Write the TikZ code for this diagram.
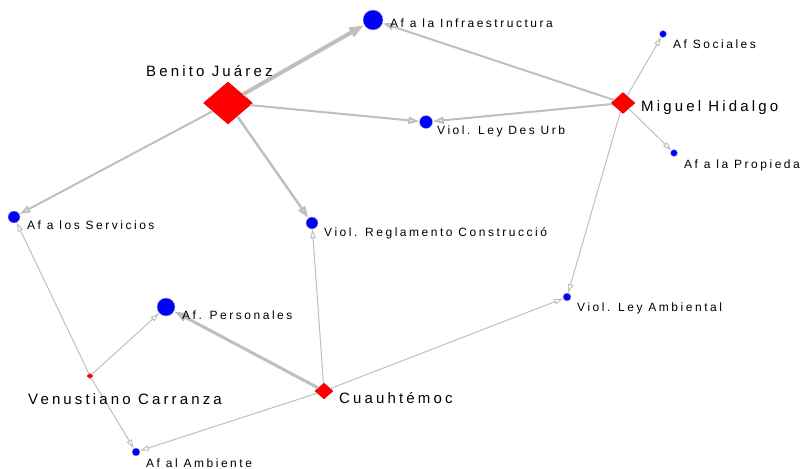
\documentclass[tikz,border=0pt]{standalone}
\usepackage{fontspec}
\newfontfamily\labfont[LetterSpace=21]{Liberation Sans}
\usetikzlibrary{shapes.geometric,arrows.meta}
\tikzset{
  dot/.style={circle,fill=blue,draw=gray!60,line width=.4pt,inner sep=0pt,minimum size=#1},
  muni/.style 2 args={diamond,fill=red,draw=red!85!black,line width=.4pt,inner sep=0pt,minimum width=#1,minimum height=#2},
  edge/.style={draw=black!25,line width=#1,-{Triangle[open,length=7pt+2*#1,width=4pt+1.5*#1]}},
  lab/.style={anchor=base west,inner sep=0pt,font=\labfont\fontsize{12}{12}\selectfont},
  biglab/.style={anchor=base west,inner sep=0pt,font=\labfont\fontsize{15}{15}\selectfont}
}
\begin{document}
\begin{tikzpicture}[x=1pt,y=-1pt]
\useasboundingbox (0,0) rectangle (802,468);
\node[muni={49pt}{42pt}] (bj) at (228,103) {};
\node[muni={24pt}{21pt}] (mh) at (623,103) {};
\node[muni={18pt}{16pt}] (cu) at (324,391) {};
\node[muni={6pt}{5pt}] (vc) at (90,376) {};
\node[dot=20pt] (infra) at (373,20) {};
\node[dot=13pt] (desurb) at (426,122) {};
\node[dot=7pt] (soc) at (663,34) {};
\node[dot=7pt] (prop) at (674,153) {};
\node[dot=12pt] (serv) at (14,217) {};
\node[dot=12pt] (regl) at (312,223) {};
\node[dot=8pt] (amb) at (567,297) {};
\node[dot=18pt] (pers) at (166,307) {};
\node[dot=8pt] (ambi) at (136,452) {};
\draw[edge=4pt] (bj) -- (infra);
\draw[edge=2pt] (bj) -- (desurb);
\draw[edge=2pt] (bj) -- (serv);
\draw[edge=2.5pt] (bj) -- (regl);
\draw[edge=2pt] (mh) -- (infra);
\draw[edge=2pt] (mh) -- (desurb);
\draw[edge=1pt] (mh) -- (soc);
\draw[edge=1pt] (mh) -- (prop);
\draw[edge=1pt] (mh) -- (amb);
\draw[edge=1pt] (vc) -- (serv);
\draw[edge=1pt] (vc) -- (pers);
\draw[edge=1pt] (vc) -- (ambi);
\draw[edge=3pt] (cu) -- (pers);
\draw[edge=1pt] (cu) -- (regl);
\draw[edge=1pt] (cu) -- (amb);
\draw[edge=1pt] (cu) -- (ambi);
\node[biglab] (lbj) at (146,77) {Benito Juárez};
\node[biglab] (lmh) at (641,111) {Miguel Hidalgo};
\node[biglab] (lcu) at (339,403) {Cuauhtémoc};
\node[biglab] (lvc) at (28,404) {Venustiano Carranza};
\node[lab] (linfra) at (390,28) {Af a la Infraestructura};
\node[lab] (ldesurb) at (437,135) {Viol. Ley Des Urb};
\node[lab] (lsoc) at (673,49) {Af Sociales};
\node[lab] (lprop) at (684,168) {Af a la Propiedad};
\node[lab] (lserv) at (27,229) {Af a los Servicios};
\begin{scope}
\clip (0,0) rectangle (546,468);
\node[lab] (lregl) at (324,236) {Viol. Reglamento Construcción};
\end{scope}
\node[lab] (lamb) at (577,311) {Viol. Ley Ambiental};
\node[lab] (lpers) at (182,319) {Af. Personales};
\node[lab] (lambi) at (146,467) {Af al Ambiente};
\end{tikzpicture}
\end{document}
